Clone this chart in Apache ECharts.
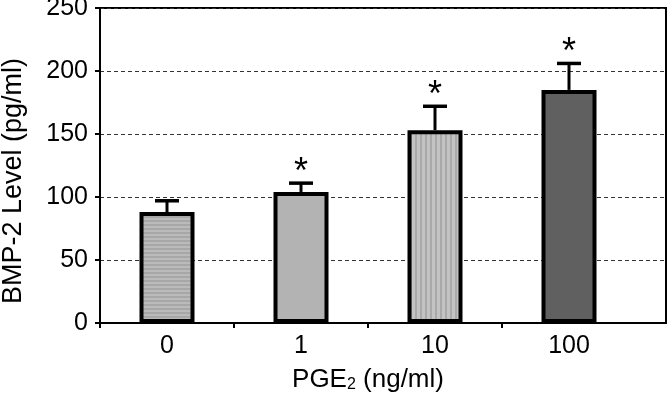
<!DOCTYPE html>
<html>
<head>
<meta charset="utf-8">
<script src="https://cdn.jsdelivr.net/npm/echarts@6/dist/echarts.min.js"></script>
<style>
html,body{margin:0;padding:0;background:#fff;}
#chart{width:667px;height:396px;}
</style>
</head>
<body>
<div id="chart"></div>
<script>
// ---- data ----
const categories = ['0', '1', '10', '100'];
const means = [88, 104, 153, 185];
const errors = [9, 7, 19, 21];
const significant = [false, true, true, true];
const yTicks = [0, 50, 100, 150, 200, 250];

// ---- fill patterns (style only) ----
function stripes(horizontal, c1, c2, a, b) {
  const cv = document.createElement('canvas');
  const n = a + b;
  cv.width = horizontal ? 4 : n;
  cv.height = horizontal ? n : 4;
  const ctx = cv.getContext('2d');
  ctx.fillStyle = c1;
  ctx.fillRect(0, 0, cv.width, cv.height);
  ctx.fillStyle = c2;
  if (horizontal) ctx.fillRect(0, a, 4, b);
  else ctx.fillRect(a, 0, b, 4);
  return { image: cv, repeat: 'repeat' };
}
const fills = [
  stripes(true, '#a7a7a7', '#bababa', 2, 2),
  '#b3b3b3',
  stripes(false, '#a9a9a9', '#c3c3c3', 2, 3),
  '#606060'
];

const FONT = 'Liberation Sans, Arial, Helvetica, sans-serif';
const chart = echarts.init(document.getElementById('chart'), null, { renderer: 'canvas' });

const option = {
  backgroundColor: '#ffffff',
  animation: false,
  grid: [
    { left: 100, right: 1, top: 8, bottom: 73, show: true, borderColor: '#000', borderWidth: 2, backgroundColor: 'transparent', outerBoundsMode: 'none', containLabel: false },
    { left: 100, width: 536, top: 8, bottom: 73, outerBoundsMode: 'none', containLabel: false }
  ],
  xAxis: [
    {
      gridIndex: 0, type: 'value', min: 0, max: 566 / 134,
      axisLine: { show: true, lineStyle: { color: '#000', width: 2 } },
      axisTick: { show: true, length: 5, lineStyle: { color: '#000', width: 2 }, customValues: [0, 1, 2, 3] },
      axisLabel: { show: false },
      splitLine: { show: false }
    },
    {
      gridIndex: 1, type: 'category', data: categories,
      axisLine: { show: false }, axisTick: { show: false },
      axisLabel: { fontSize: 25, color: '#000', fontFamily: FONT, margin: 11 },
      name: '{a|PGE}{s|2}{a| (ng/ml)}',
      nameLocation: 'middle', nameGap: 44,
      nameTextStyle: {
        color: '#000', fontFamily: FONT,
        rich: {
          a: { fontSize: 26, color: '#000', fontFamily: FONT, lineHeight: 26, verticalAlign: 'bottom' },
          s: { fontSize: 16, color: '#000', fontFamily: FONT, lineHeight: 14, verticalAlign: 'bottom' }
        }
      }
    }
  ],
  yAxis: [
    {
      gridIndex: 0, type: 'value', min: yTicks[0], max: yTicks[yTicks.length - 1], interval: 50,
      axisLine: { show: true, lineStyle: { color: '#000', width: 2 } },
      axisTick: { show: true, length: 5, lineStyle: { color: '#000', width: 2 } },
      axisLabel: { fontSize: 25, color: '#000', fontFamily: FONT, margin: 12 },
      splitLine: { show: true, lineStyle: { color: '#333', width: 1.2, type: [4, 3] } }
    },
    {
      gridIndex: 1, type: 'value', min: yTicks[0], max: yTicks[yTicks.length - 1], interval: 50,
      show: false, splitLine: { show: false }
    }
  ],
  graphic: [
    {
      type: 'text', x: 14, y: 181, rotation: Math.PI / 2,
      style: {
        text: 'BMP-2 Level (pg/ml)', fill: '#000', font: '27px ' + FONT,
        textAlign: 'center', textVerticalAlign: 'middle'
      }
    }
  ],
  series: [
    {
      type: 'bar', xAxisIndex: 1, yAxisIndex: 1, barWidth: 55, z: 2,
      data: means.map((v, i) => ({ value: v, itemStyle: { color: fills[i] } })),
      itemStyle: { borderColor: '#000', borderWidth: 4 }
    },
    {
      type: 'custom', xAxisIndex: 1, yAxisIndex: 1, z: 3,
      data: categories.map((c, i) => [i, means[i], means[i] + errors[i], significant[i] ? 1 : 0]),
      renderItem: function (params, api) {
        const base = api.coord([api.value(0), api.value(1)]);
        const top = api.coord([api.value(0), api.value(2)]);
        const x = base[0];
        const children = [
          { type: 'line', shape: { x1: x, y1: base[1], x2: x, y2: top[1] }, style: { stroke: '#000', lineWidth: 3 } },
          { type: 'line', shape: { x1: x - 12, y1: top[1], x2: x + 12, y2: top[1] }, style: { stroke: '#000', lineWidth: 3.5 } }
        ];
        if (api.value(3)) {
          children.push({
            type: 'text', x: x, y: top[1] - 10,
            style: { text: '*', fill: '#000', font: '36px ' + FONT, textAlign: 'center', textVerticalAlign: 'middle' }
          });
        }
        return { type: 'group', children: children };
      }
    }
  ]
};
chart.setOption(option);
</script>
</body>
</html>
